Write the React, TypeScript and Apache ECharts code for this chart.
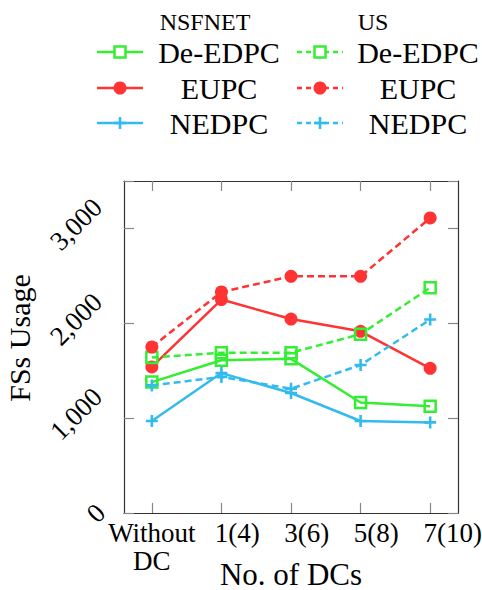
import React, { useEffect, useRef } from 'react';
import * as echarts from 'echarts';

const categories = ['Without\nDC', '1(4)', '3(6)', '5(8)', '7(10)'];
const yTicks = [0, 1000, 2000, 3000];
const networks = ['NSFNET', 'US'];
const methods = ['De-EDPC', 'EUPC', 'NEDPC'];

const nsfnetDeEDPC = [1380, 1610, 1625, 1165, 1125];
const nsfnetEUPC = [1540, 2250, 2045, 1915, 1525];
const nsfnetNEDPC = [970, 1475, 1265, 970, 955];
const usDeEDPC = [1640, 1690, 1690, 1885, 2375];
const usEUPC = [1750, 2330, 2495, 2495, 3110];
const usNEDPC = [1345, 1435, 1310, 1560, 2040];

const FONT = '"Liberation Serif", "Times New Roman", serif';
const GREEN = '#33ee33';
const RED = '#ff3333';
const BLUE = '#33bbee';
const PLUS = 'path://M4.7,0H7.3V4.7H12V7.3H7.3V12H4.7V7.3H0V4.7H4.7Z';

const methodStyle: Record<string, { color: string; symbol: string; size: number }> = {
  'De-EDPC': { color: GREEN, symbol: 'rect', size: 11 },
  EUPC: { color: RED, symbol: 'circle', size: 13 },
  NEDPC: { color: BLUE, symbol: PLUS, size: 12 },
};

const seriesData: Record<string, number[]> = {
  'NSFNET De-EDPC': nsfnetDeEDPC,
  'NSFNET EUPC': nsfnetEUPC,
  'NSFNET NEDPC': nsfnetNEDPC,
  'US De-EDPC': usDeEDPC,
  'US EUPC': usEUPC,
  'US NEDPC': usNEDPC,
};

function measure(t: string, size: number) {
  const ctx = document.createElement('canvas').getContext('2d');
  if (!ctx) return t.length * size * 0.45;
  ctx.font = `${size}px ${FONT}`;
  return ctx.measureText(t).width;
}

function splitCat(c: string): [string, string] {
  const m = c.match(/^(\d+)(\(.*\))$/);
  return m ? [m[1], m[2]] : [c, ''];
}

export default function App() {
  const ref = useRef<HTMLDivElement>(null);
  useEffect(() => {
    if (!ref.current) return;
    const chart = echarts.init(ref.current, undefined, { renderer: 'svg' });
    const tickFont = 27;
    const halfDigit = measure('1', tickFont) / 2;

    const series: any[] = [];
    networks.forEach((net) => {
      methods.forEach((meth) => {
        const st = methodStyle[meth];
        const dashed = net === 'US';
        series.push({
          type: 'line',
          name: `${net} ${meth}`,
          data: seriesData[`${net} ${meth}`].map((v, i) => [i, v]),
          symbol: st.symbol,
          symbolSize: st.size,
          showSymbol: true,
          lineStyle: { color: st.color, width: 2.5, type: dashed ? [7, 4] : 'solid' },
          itemStyle:
            st.symbol === 'rect'
              ? { color: 'rgba(255,255,255,0)', borderColor: st.color, borderWidth: 2.5 }
              : { color: st.color },
          emphasis: { disabled: true },
        });
      });
    });

    const graphics: any[] = [];
    networks.forEach((net, ni) => {
      const x0 = ni === 0 ? 97 : 297;
      const textX = ni === 0 ? 219 : 418;
      graphics.push({
        type: 'text',
        x: ni === 0 ? 205 : 373,
        y: 22,
        style: {
          text: net, font: `24px ${FONT}`, fill: '#000',
          align: 'center', verticalAlign: 'middle', textAlign: 'center', textVerticalAlign: 'middle',
        },
      });
      methods.forEach((meth, mi) => {
        const st = methodStyle[meth];
        const cy = [52, 88, 123][mi];
        const cx = x0 + 23;
        graphics.push({
          type: 'line',
          shape: { x1: x0, y1: cy, x2: x0 + 46, y2: cy },
          style: { stroke: st.color, lineWidth: 2.5, lineDash: net === 'US' ? [5, 4] : null },
        });
        if (meth === 'EUPC') {
          graphics.push({ type: 'circle', shape: { cx, cy, r: 6.5 }, style: { fill: st.color } });
        } else if (meth === 'De-EDPC') {
          graphics.push({
            type: 'rect', shape: { x: cx - 5.5, y: cy - 5.5, width: 11, height: 11 },
            style: { fill: '#fff', stroke: st.color, lineWidth: 2.5 },
          });
        } else {
          graphics.push({ type: 'rect', shape: { x: cx - 6, y: cy - 1.3, width: 12, height: 2.6 }, style: { fill: st.color } });
          graphics.push({ type: 'rect', shape: { x: cx - 1.3, y: cy - 6, width: 2.6, height: 12 }, style: { fill: st.color } });
        }
        graphics.push({
          type: 'text',
          x: textX,
          y: cy,
          style: {
            text: meth, font: `30px ${FONT}`, fill: '#000',
            align: 'center', verticalAlign: 'middle', textAlign: 'center', textVerticalAlign: 'middle',
          },
        });
      });
    });

    const axisLine = { show: true, onZero: false, lineStyle: { color: '#333', width: 1.2 } };
    const tickStyle = { color: '#888', width: 1.2 };
    const tickVals = categories.map((_, i) => i);
    const suffixVals = categories.map((c, i) => (splitCat(c)[1] ? i : -1)).filter((i) => i >= 0);
    const labelText = { fontSize: tickFont, fontFamily: FONT, color: '#000', lineHeight: 28 };

    chart.setOption({
      animation: false,
      backgroundColor: '#fff',
      grid: { left: 124, right: 24, top: 181, bottom: 77, containLabel: false, outerBoundsMode: 'none' },
      xAxis: [
        {
          type: 'value', min: -0.4, max: 4.4, position: 'bottom',
          axisLine,
          splitLine: { show: false },
          axisTick: { show: true, inside: true, length: 10, customValues: tickVals, lineStyle: tickStyle },
          axisLabel: {
            customValues: tickVals,
            margin: 6,
            showMinLabel: true,
            showMaxLabel: true,
            hideOverlap: false,
            ...labelText,
            formatter: (v: number) => {
              const c = categories[Math.round(v)];
              return c === undefined ? '' : splitCat(c)[0];
            },
          },
          name: 'No. of DCs',
          nameLocation: 'middle',
          nameGap: 47,
          nameMoveOverlap: false,
          nameTextStyle: { fontSize: 31, fontFamily: FONT, color: '#000', lineHeight: 28 },
        },
        {
          type: 'value', min: -0.4, max: 4.4, position: 'top',
          axisLine,
          splitLine: { show: false },
          axisTick: { show: true, inside: true, length: 10, customValues: tickVals, lineStyle: tickStyle },
          axisLabel: { show: false },
        },
        {
          type: 'value', min: -0.4, max: 4.4, position: 'bottom',
          axisLine: { show: false, onZero: false },
          splitLine: { show: false },
          axisTick: { show: false },
          axisLabel: {
            customValues: suffixVals,
            margin: 6,
            align: 'left',
            showMinLabel: true,
            showMaxLabel: true,
            hideOverlap: false,
            formatter: (v: number) => {
              const c = categories[Math.round(v)];
              return c === undefined ? '' : `{s|${splitCat(c)[1]}}`;
            },
            rich: { s: { ...labelText, padding: [0, 0, 0, halfDigit] } },
          },
        },
      ],
      yAxis: [
        {
          type: 'value', min: 0, max: 3500, interval: 1000, position: 'left',
          axisLine,
          splitLine: { show: false },
          axisTick: { show: true, inside: true, length: 10, lineStyle: tickStyle },
          axisLabel: {
            rotate: 45,
            align: 'center',
            verticalAlign: 'middle',
            margin: 48,
            hideOverlap: false,
            formatter: (v: number) => {
              if (v === 0 || yTicks.indexOf(v) < 0) return '';
              return `{n|${v.toLocaleString('en-US')}}`;
            },
            rich: {
              n: { fontSize: 27, fontFamily: FONT, color: '#000', padding: [0, 0, 6, 6] },
            },
          },
          name: 'FSs Usage',
          nameLocation: 'middle',
          nameGap: 90,
          nameTextStyle: { fontSize: 30, fontFamily: FONT, color: '#000', padding: [0, 0, 0, 18] },
        },
        {
          type: 'value', min: 0, max: 3500, interval: 1000, position: 'right',
          axisLine,
          splitLine: { show: false },
          axisTick: { show: true, inside: true, length: 10, lineStyle: tickStyle },
          axisLabel: { show: false },
        },
        {
          type: 'value', min: 0, max: 3500, interval: 1000, position: 'left',
          axisLine: { show: false, onZero: false },
          splitLine: { show: false },
          axisTick: { show: false },
          axisLabel: {
            rotate: 45,
            align: 'center',
            verticalAlign: 'middle',
            margin: 28,
            showMinLabel: true,
            hideOverlap: false,
            fontSize: 27,
            fontFamily: FONT,
            color: '#000',
            formatter: (v: number) => (v === 0 ? '0' : ''),
          },
        },
      ],
      series,
      graphic: graphics,
    });
    return () => chart.dispose();
  }, []);
  return (
    <div
      ref={ref}
      style={{ position: 'fixed', left: 0, top: 0, width: 482, height: 590, background: '#fff' }}
    />
  );
}
